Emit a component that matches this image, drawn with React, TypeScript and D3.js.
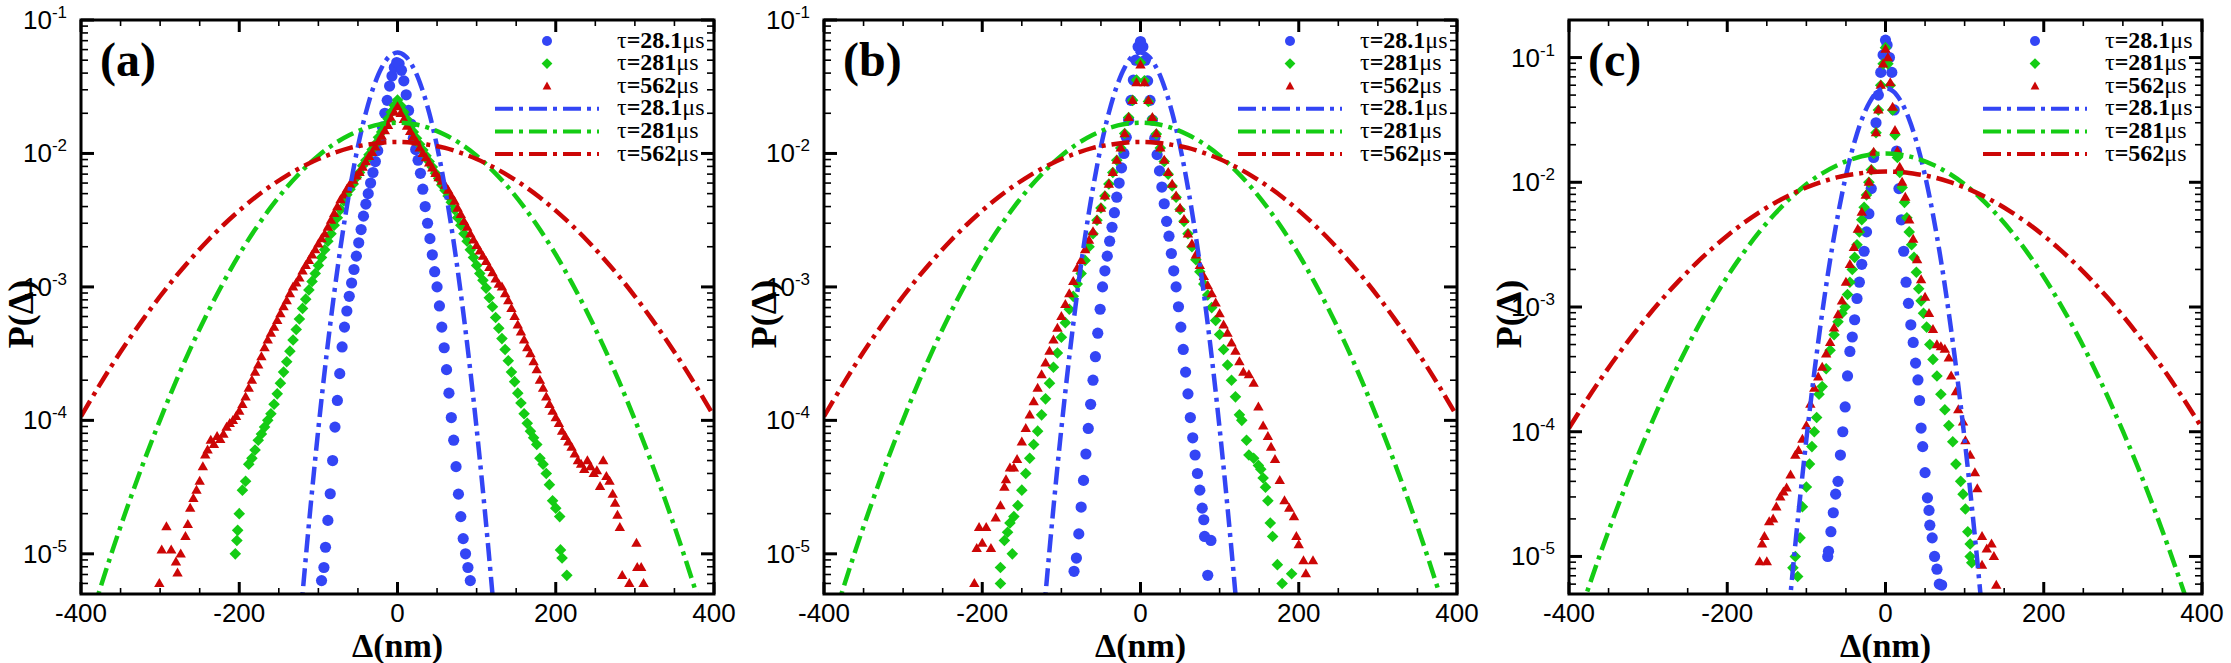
import React from 'react';
import * as d3 from 'd3';

type Pt = [number, number];

// ---------- shared values ----------
const tauValues = ['28.1', '281', '562'];
const xMajorTicks = [-400, -200, 0, 200, 400];
const xDomain: [number, number] = [-400, 400];
const yMin = 5e-6;
const yMaxList = [0.1, 0.1, 0.2];
const panelLabels = ['(a)', '(b)', '(c)'];

// ---------- Gaussian fit curves (same in all panels) ----------
const fitBlue: Pt[] = [[-130,9.9e-7],[-120,5.0e-6],[-110,2.22e-5],[-100,8.69e-5],[-90,2.98e-4],[-80,8.97e-4],[-70,2.38e-3],[-60,5.52e-3],[-50,1.13e-2],[-40,2.02e-2],[-30,3.18e-2],[-20,4.40e-2],[-10,5.35e-2],[0,5.70e-2],[10,5.35e-2],[20,4.40e-2],[30,3.18e-2],[40,2.02e-2],[50,1.13e-2],[60,5.52e-3],[70,2.38e-3],[80,8.97e-4],[90,2.98e-4],[100,8.69e-5],[110,2.22e-5],[120,5.0e-6],[130,9.9e-7]];
const fitGreen: Pt[] = [[-400,1.89e-6],[-380,4.59e-6],[-360,1.07e-5],[-340,2.37e-5],[-320,5.01e-5],[-300,1.01e-4],[-280,1.96e-4],[-260,3.63e-4],[-240,6.41e-4],[-220,1.08e-3],[-200,1.75e-3],[-180,2.69e-3],[-160,3.96e-3],[-140,5.57e-3],[-120,7.48e-3],[-100,9.62e-3],[-80,1.18e-2],[-60,1.38e-2],[-40,1.55e-2],[-20,1.66e-2],[0,1.70e-2],[20,1.66e-2],[40,1.55e-2],[60,1.38e-2],[80,1.18e-2],[100,9.62e-3],[120,7.48e-3],[140,5.57e-3],[160,3.96e-3],[180,2.69e-3],[200,1.75e-3],[220,1.08e-3],[240,6.41e-4],[260,3.63e-4],[280,1.96e-4],[300,1.01e-4],[320,5.01e-5],[340,2.37e-5],[360,1.07e-5],[380,4.59e-6],[400,1.89e-6]];
const fitRed: Pt[] = [[-400,1.07e-4],[-380,1.70e-4],[-360,2.64e-4],[-340,3.99e-4],[-320,5.89e-4],[-300,8.51e-4],[-280,1.20e-3],[-260,1.65e-3],[-240,2.22e-3],[-220,2.91e-3],[-200,3.73e-3],[-180,4.68e-3],[-160,5.72e-3],[-140,6.83e-3],[-120,7.96e-3],[-100,9.08e-3],[-80,1.01e-2],[-60,1.10e-2],[-40,1.16e-2],[-20,1.205e-2],[0,1.22e-2],[20,1.205e-2],[40,1.16e-2],[60,1.10e-2],[80,1.01e-2],[100,9.08e-3],[120,7.96e-3],[140,6.83e-3],[160,5.72e-3],[180,4.68e-3],[200,3.73e-3],[220,2.91e-3],[240,2.22e-3],[260,1.65e-3],[280,1.20e-3],[300,8.51e-4],[320,5.89e-4],[340,3.99e-4],[360,2.64e-4],[380,1.70e-4],[400,1.07e-4]];

// ---------- panel (a) measured ----------
const blueA: Pt[] = [[-96,6.3e-6],[-93,7.9e-6],[-91,1.12e-5],[-88,1.78e-5],[-85,2.82e-5],[-82,5.0e-5],[-79,8.9e-5],[-76,1.41e-4],[-73,2.24e-4],[-70,3.55e-4],[-67,5.0e-4],[-64,6.6e-4],[-61,8.5e-4],[-58,1.07e-3],[-55,1.35e-3],[-52,1.7e-3],[-49,2.14e-3],[-46,2.69e-3],[-43,3.39e-3],[-40,4.17e-3],[-37,5.0e-3],[-34,6.0e-3],[-31,7.2e-3],[-28,8.7e-3],[-25,1.05e-2],[-22,1.26e-2],[-19,1.58e-2],[-16,2.0e-2],[-13,2.5e-2],[-10,3.2e-2],[-7,3.8e-2],[-4,4.4e-2],[-1,4.8e-2],[2,4.7e-2],[5,4.2e-2],[8,3.5e-2],[11,2.75e-2],[14,2.1e-2],[17,1.66e-2],[20,1.3e-2],[23,1.07e-2],[26,8.9e-3],[29,7.1e-3],[32,5.4e-3],[35,4.0e-3],[38,3.0e-3],[41,2.3e-3],[44,1.74e-3],[47,1.3e-3],[50,1.0e-3],[53,7.2e-4],[56,5.0e-4],[59,3.5e-4],[62,2.4e-4],[65,1.6e-4],[68,1.05e-4],[71,7.1e-5],[74,4.5e-5],[77,2.8e-5],[80,1.9e-5],[83,1.3e-5],[86,1.0e-5],[89,7.9e-6],[92,6.3e-6]];
const greenA: Pt[] = [[-205,1.0e-5],[-203,1.26e-5],[-202,1.5e-5],[-200,2.0e-5],[-196,3.0e-5],[-192,3.5e-5],[-188,4.7e-5],[-184,5.2e-5],[-180,6.0e-5],[-176,7.1e-5],[-172,7.9e-5],[-168,8.9e-5],[-164,1.0e-4],[-160,1.12e-4],[-156,1.32e-4],[-152,1.58e-4],[-148,1.9e-4],[-144,2.3e-4],[-140,2.75e-4],[-136,3.3e-4],[-132,4.0e-4],[-128,4.8e-4],[-124,5.75e-4],[-120,6.9e-4],[-116,8.1e-4],[-112,9.5e-4],[-108,1.1e-3],[-104,1.26e-3],[-100,1.45e-3],[-96,1.66e-3],[-92,1.9e-3],[-88,2.2e-3],[-84,2.5e-3],[-80,2.9e-3],[-76,3.3e-3],[-72,3.8e-3],[-68,4.4e-3],[-64,4.9e-3],[-60,5.4e-3],[-56,5.9e-3],[-52,6.6e-3],[-48,7.2e-3],[-44,8.1e-3],[-40,8.9e-3],[-36,9.8e-3],[-32,1.07e-2],[-28,1.17e-2],[-24,1.32e-2],[-20,1.45e-2],[-16,1.62e-2],[-12,1.82e-2],[-8,2.04e-2],[-4,2.29e-2],[0,2.51e-2],[4,2.29e-2],[8,2.04e-2],[12,1.8e-2],[16,1.6e-2],[20,1.45e-2],[24,1.3e-2],[28,1.17e-2],[32,1.06e-2],[36,9.6e-3],[40,8.7e-3],[44,7.9e-3],[48,7.1e-3],[52,6.5e-3],[56,5.8e-3],[60,5.3e-3],[64,4.8e-3],[68,4.3e-3],[72,3.8e-3],[76,3.3e-3],[80,2.9e-3],[84,2.5e-3],[88,2.2e-3],[92,1.9e-3],[96,1.66e-3],[100,1.45e-3],[104,1.26e-3],[108,1.12e-3],[112,9.8e-4],[116,8.3e-4],[120,7.1e-4],[124,5.9e-4],[128,4.9e-4],[132,4.1e-4],[136,3.4e-4],[140,2.8e-4],[144,2.3e-4],[148,1.95e-4],[152,1.6e-4],[156,1.35e-4],[160,1.12e-4],[164,9.5e-5],[168,8.3e-5],[172,7.4e-5],[176,6.6e-5],[180,5.2e-5],[184,4.7e-5],[188,4.0e-5],[192,3.3e-5],[196,2.5e-5],[200,2.2e-5],[205,1.9e-5],[206,1.07e-5],[208,9.3e-6],[214,6.9e-6]];
const redA: Pt[] = [[-301,6.0e-6],[-298,1.07e-5],[-292,1.6e-5],[-286,1.07e-5],[-280,8.7e-6],[-278,7.2e-6],[-274,1.0e-5],[-268,1.35e-5],[-265,1.66e-5],[-262,2.2e-5],[-258,2.6e-5],[-254,3.0e-5],[-250,3.5e-5],[-246,4.5e-5],[-243,5.5e-5],[-240,6.0e-5],[-236,7.1e-5],[-232,6.6e-5],[-228,7.6e-5],[-224,7.2e-5],[-220,7.9e-5],[-216,8.9e-5],[-212,9.5e-5],[-208,1.0e-4],[-204,1.07e-4],[-200,1.17e-4],[-196,1.32e-4],[-192,1.5e-4],[-188,1.74e-4],[-184,2.0e-4],[-180,2.3e-4],[-176,2.6e-4],[-172,3.0e-4],[-168,3.5e-4],[-164,4.0e-4],[-160,4.5e-4],[-156,5.0e-4],[-152,5.6e-4],[-148,6.3e-4],[-144,7.1e-4],[-140,7.9e-4],[-136,8.9e-4],[-132,1.0e-3],[-128,1.07e-3],[-124,1.17e-3],[-120,1.32e-3],[-116,1.45e-3],[-112,1.58e-3],[-108,1.74e-3],[-104,1.9e-3],[-100,2.1e-3],[-96,2.3e-3],[-92,2.5e-3],[-88,2.8e-3],[-84,3.16e-3],[-80,3.55e-3],[-76,4.0e-3],[-72,4.5e-3],[-68,4.9e-3],[-64,5.4e-3],[-60,5.9e-3],[-56,6.3e-3],[-52,6.8e-3],[-48,7.2e-3],[-44,7.9e-3],[-40,8.7e-3],[-36,9.5e-3],[-32,1.02e-2],[-28,1.12e-2],[-24,1.23e-2],[-20,1.35e-2],[-16,1.48e-2],[-12,1.62e-2],[-8,1.82e-2],[-4,2.04e-2],[0,2.24e-2],[4,2.0e-2],[8,1.8e-2],[12,1.6e-2],[16,1.46e-2],[20,1.33e-2],[24,1.22e-2],[28,1.1e-2],[32,1.0e-2],[36,9.3e-3],[40,8.5e-3],[44,7.8e-3],[48,7.1e-3],[52,6.6e-3],[56,6.2e-3],[60,5.8e-3],[64,5.3e-3],[68,4.8e-3],[72,4.4e-3],[76,3.9e-3],[80,3.5e-3],[84,3.1e-3],[88,2.8e-3],[92,2.5e-3],[96,2.25e-3],[100,2.05e-3],[104,1.86e-3],[108,1.7e-3],[112,1.55e-3],[116,1.4e-3],[120,1.28e-3],[124,1.15e-3],[128,1.05e-3],[132,1.0e-3],[136,8.9e-4],[140,7.9e-4],[144,6.9e-4],[148,6.0e-4],[152,5.2e-4],[156,4.6e-4],[160,4.0e-4],[164,3.5e-4],[168,3.16e-4],[172,2.75e-4],[176,2.4e-4],[180,2.0e-4],[184,1.74e-4],[188,1.5e-4],[192,1.32e-4],[196,1.17e-4],[200,1.05e-4],[204,9.5e-5],[208,8.3e-5],[212,7.6e-5],[216,6.9e-5],[220,6.3e-5],[224,5.6e-5],[228,5.0e-5],[232,4.7e-5],[236,4.3e-5],[240,5.0e-5],[244,4.5e-5],[248,4.0e-5],[252,4.2e-5],[256,3.2e-5],[260,5.0e-5],[264,3.8e-5],[268,3.5e-5],[272,2.8e-5],[275,2.4e-5],[278,1.95e-5],[281,1.58e-5],[284,6.9e-6],[293,6.0e-6],[302,1.2e-5],[303,7.9e-6],[308,7.9e-6],[311,6.0e-6]];

// ---------- panel (b) measured ----------
const blueB: Pt[] = [[-84,7.4e-6],[-81,9.3e-6],[-78,1.41e-5],[-75,2.24e-5],[-72,3.55e-5],[-69,5.6e-5],[-66,8.7e-5],[-63,1.32e-4],[-60,2.0e-4],[-57,3.0e-4],[-54,4.5e-4],[-51,6.8e-4],[-48,1.0e-3],[-45,1.32e-3],[-42,1.7e-3],[-39,2.2e-3],[-36,2.8e-3],[-33,3.6e-3],[-30,4.7e-3],[-27,6.0e-3],[-24,7.8e-3],[-21,1.0e-2],[-18,1.32e-2],[-15,1.78e-2],[-12,2.5e-2],[-9,3.55e-2],[-6,5.0e-2],[-3,6.3e-2],[0,6.9e-2],[3,6.3e-2],[6,5.0e-2],[9,3.5e-2],[12,2.5e-2],[15,1.78e-2],[18,1.3e-2],[21,9.8e-3],[24,7.4e-3],[27,5.6e-3],[30,4.2e-3],[33,3.1e-3],[36,2.4e-3],[39,1.78e-3],[42,1.32e-3],[45,1.0e-3],[48,7.1e-4],[51,5.0e-4],[54,3.4e-4],[57,2.3e-4],[60,1.58e-4],[63,1.05e-4],[66,7.4e-5],[69,5.5e-5],[72,4.0e-5],[75,3.0e-5],[78,2.2e-5],[80,1.8e-5],[81,1.35e-5],[85,6.9e-6],[89,1.26e-5]];
const greenB: Pt[] = [[-177,6.0e-6],[-177,7.9e-6],[-172,1.26e-5],[-168,1.45e-5],[-165,1.7e-5],[-162,1.0e-5],[-160,1.9e-5],[-155,2.3e-5],[-150,3.0e-5],[-145,4.0e-5],[-140,5.2e-5],[-135,6.6e-5],[-130,8.3e-5],[-125,1.1e-4],[-120,1.45e-4],[-115,1.9e-4],[-110,2.5e-4],[-105,3.2e-4],[-100,4.2e-4],[-95,5.4e-4],[-90,6.8e-4],[-85,8.5e-4],[-80,1.05e-3],[-75,1.26e-3],[-70,1.58e-3],[-65,2.0e-3],[-60,2.5e-3],[-55,3.16e-3],[-50,3.9e-3],[-45,4.8e-3],[-40,5.9e-3],[-35,7.2e-3],[-30,8.9e-3],[-25,1.1e-2],[-20,1.41e-2],[-15,1.86e-2],[-10,2.5e-2],[-5,3.55e-2],[0,4.8e-2],[5,3.5e-2],[10,2.45e-2],[15,1.82e-2],[20,1.4e-2],[25,1.1e-2],[30,8.7e-3],[35,7.0e-3],[40,5.7e-3],[45,4.7e-3],[50,3.8e-3],[55,3.1e-3],[60,2.5e-3],[65,2.0e-3],[70,1.6e-3],[75,1.3e-3],[80,1.05e-3],[85,8.7e-4],[90,7.0e-4],[95,5.6e-4],[100,4.4e-4],[105,3.4e-4],[110,2.6e-4],[115,2.0e-4],[120,1.5e-4],[125,1.1e-4],[128,1.0e-4],[134,7.1e-5],[137,5.5e-5],[143,5.2e-5],[149,4.6e-5],[152,4.3e-5],[155,3.7e-5],[158,3.16e-5],[161,2.5e-5],[164,1.7e-5],[167,1.35e-5],[173,8.3e-6],[179,6.0e-6],[191,7.1e-6]];
const redB: Pt[] = [[-210,6.0e-6],[-207,1.1e-5],[-204,1.58e-5],[-200,1.2e-5],[-195,1.58e-5],[-189,1.1e-5],[-183,1.86e-5],[-177,2.3e-5],[-172,3.16e-5],[-170,3.6e-5],[-165,4.4e-5],[-160,4.4e-5],[-156,5.1e-5],[-150,6.9e-5],[-145,8.7e-5],[-140,1.1e-4],[-135,1.38e-4],[-130,1.74e-4],[-125,2.2e-4],[-120,2.7e-4],[-115,3.3e-4],[-110,4.0e-4],[-105,4.9e-4],[-100,6.0e-4],[-95,7.4e-4],[-90,8.9e-4],[-85,1.1e-3],[-80,1.38e-3],[-75,1.58e-3],[-70,1.9e-3],[-65,2.24e-3],[-60,2.6e-3],[-55,3.16e-3],[-50,3.9e-3],[-45,4.8e-3],[-40,5.9e-3],[-35,7.2e-3],[-30,8.9e-3],[-25,1.1e-2],[-20,1.41e-2],[-15,1.86e-2],[-10,2.5e-2],[-5,3.4e-2],[0,4.6e-2],[5,3.4e-2],[10,2.5e-2],[15,1.86e-2],[20,1.41e-2],[25,1.1e-2],[30,8.9e-3],[35,7.2e-3],[40,5.9e-3],[45,4.8e-3],[50,3.9e-3],[55,3.2e-3],[60,2.5e-3],[65,2.1e-3],[70,1.74e-3],[75,1.45e-3],[80,1.2e-3],[85,1.02e-3],[90,8.9e-4],[95,7.6e-4],[100,6.3e-4],[105,5.2e-4],[110,4.5e-4],[115,3.8e-4],[120,3.3e-4],[125,2.75e-4],[130,2.3e-4],[137,2.2e-4],[143,1.9e-4],[149,1.26e-4],[155,9.1e-5],[161,7.6e-5],[165,6.3e-5],[170,5.1e-5],[176,3.55e-5],[182,2.5e-5],[188,2.2e-5],[194,1.9e-5],[197,1.35e-5],[200,1.17e-5],[206,8.9e-6],[209,7.1e-6],[218,8.9e-6]];

// ---------- panel (c) measured ----------
const blueC: Pt[] = [[-73,1.0e-5],[-72,1.1e-5],[-69,1.58e-5],[-66,2.24e-5],[-63,3.16e-5],[-60,4.0e-5],[-57,6.5e-5],[-54,1.0e-4],[-51,1.58e-4],[-48,2.8e-4],[-45,4.4e-4],[-42,5.75e-4],[-39,7.9e-4],[-36,1.17e-3],[-33,1.58e-3],[-30,2.2e-3],[-27,2.8e-3],[-24,4.0e-3],[-21,5.6e-3],[-18,8.9e-3],[-15,1.58e-2],[-12,3.0e-2],[-9,5.0e-2],[-6,7.6e-2],[-3,1.05e-1],[0,1.38e-1],[2,1.26e-1],[5,1.0e-1],[8,7.6e-2],[11,3.8e-2],[14,1.78e-2],[17,8.9e-3],[20,5.0e-3],[23,2.8e-3],[26,1.58e-3],[29,1.07e-3],[32,7.2e-4],[35,5.2e-4],[38,3.55e-4],[41,2.6e-4],[43,1.78e-4],[45,1.07e-4],[47,7.6e-5],[50,4.7e-5],[53,2.95e-5],[55,2.34e-5],[56,1.78e-5],[59,1.41e-5],[62,1.0e-5],[65,7.9e-6],[68,6.0e-6],[71,5.9e-6]];
const greenC: Pt[] = [[-117,8.1e-6],[-114,1.0e-5],[-111,6.9e-6],[-108,1.41e-5],[-105,2.5e-5],[-100,3.6e-5],[-96,5.5e-5],[-93,7.6e-5],[-90,1.0e-4],[-87,1.3e-4],[-84,2.0e-4],[-80,2.3e-4],[-75,3.2e-4],[-70,4.5e-4],[-65,6.0e-4],[-60,7.6e-4],[-55,8.9e-4],[-51,1.0e-3],[-48,1.26e-3],[-45,1.58e-3],[-42,2.0e-3],[-39,2.5e-3],[-36,3.16e-3],[-33,4.0e-3],[-30,5.0e-3],[-27,6.3e-3],[-24,7.9e-3],[-21,1.0e-2],[-18,1.26e-2],[-15,1.7e-2],[-12,2.5e-2],[-9,3.8e-2],[-6,6.0e-2],[-3,8.9e-2],[0,1.2e-1],[3,8.9e-2],[6,6.0e-2],[9,3.8e-2],[12,2.4e-2],[15,1.58e-2],[18,1.2e-2],[21,9.1e-3],[24,6.9e-3],[27,5.2e-3],[30,4.0e-3],[33,3.16e-3],[36,2.5e-3],[39,1.9e-3],[42,1.4e-3],[45,1.12e-3],[48,8.9e-4],[52,6.9e-4],[56,5.0e-4],[60,3.8e-4],[65,2.8e-4],[70,2.0e-4],[75,1.5e-4],[80,1.12e-4],[85,8.3e-5],[89,5.5e-5],[95,4.0e-5],[98,3.16e-5],[101,2.4e-5],[104,1.58e-5],[107,1.0e-5],[107,1.26e-5],[109,8.9e-6]];
const redC: Pt[] = [[-159,9.1e-6],[-156,1.26e-5],[-153,1.45e-5],[-150,9.1e-6],[-147,1.9e-5],[-142,2.0e-5],[-138,2.5e-5],[-133,3.0e-5],[-129,3.3e-5],[-125,3.55e-5],[-120,4.5e-5],[-114,6.5e-5],[-110,7.1e-5],[-105,8.7e-5],[-100,1.12e-4],[-95,1.66e-4],[-90,2.24e-4],[-85,2.75e-4],[-80,3.3e-4],[-75,4.2e-4],[-70,5.2e-4],[-65,6.8e-4],[-60,8.7e-4],[-55,1.12e-3],[-50,1.58e-3],[-45,2.2e-3],[-40,3.0e-3],[-35,4.2e-3],[-30,5.75e-3],[-25,7.9e-3],[-21,1.0e-2],[-18,1.26e-2],[-15,1.74e-2],[-12,2.5e-2],[-9,3.8e-2],[-6,6.0e-2],[-3,8.9e-2],[0,1.17e-1],[3,1.0e-1],[6,6.3e-2],[9,4.0e-2],[12,2.6e-2],[15,1.78e-2],[18,1.32e-2],[21,1.0e-2],[25,7.6e-3],[30,5.0e-3],[35,3.5e-3],[40,2.4e-3],[45,1.66e-3],[50,1.2e-3],[55,8.9e-4],[60,6.6e-4],[65,5.0e-4],[70,4.8e-4],[75,4.6e-4],[80,3.9e-4],[83,2.8e-4],[89,2.1e-4],[92,1.5e-4],[98,1.2e-4],[101,8.5e-5],[107,6.5e-5],[113,4.7e-5],[116,3.5e-5],[122,1.45e-5],[122,8.5e-6],[128,1.15e-5],[134,1.26e-5],[137,1.0e-5],[140,5.9e-6]];

const blueSets = [blueA, blueB, blueC];
const greenSets = [greenA, greenB, greenC];
const redSets = [redA, redB, redC];

// ---------- styling / layout ----------
const BLUE = '#3345f5';
const GREEN = '#14cc14';
const RED = '#cc0606';
const PANEL_LEFT = [81, 824, 1569];
const TOP = 20;
const W = 633;
const H = 574;
const SANS = 'Liberation Sans, Arial, Helvetica, sans-serif';
const SERIF = 'Liberation Serif, Times New Roman, Times, serif';
const DASH = '18 6 4 6';

const diamondPath = 'M0,-5.8L5.8,0L0,5.8L-5.8,0Z';
const trianglePath = 'M0,-5.4L5.2,3.6L-5.2,3.6Z';
const diamondPathLegend = 'M0,-5.4L5.4,0L0,5.4L-5.4,0Z';
const trianglePathLegend = 'M0,-4.6L4.4,3.2L-4.4,3.2Z';

function Panel({ idx }: { idx: number }) {
  const left = PANEL_LEFT[idx];
  const yMax = yMaxList[idx];
  const x = d3.scaleLinear().domain(xDomain).range([0, W]);
  const y = d3.scaleLog().domain([yMin, yMax]).range([H, 0]);
  const line = d3
    .line<Pt>()
    .x((d) => x(d[0]))
    .y((d) => y(d[1]))
    .curve(d3.curveCatmullRom);
  const clipId = `plotclip${idx}`;

  const xMinor: number[] = d3.range(-350, 400, 50).filter((v) => !xMajorTicks.includes(v));
  const decades: number[] = [];
  const minors: number[] = [];
  for (let e = -6; e <= 0; e++) {
    const d = Math.pow(10, e);
    if (d > yMin * 1.0001 && d < yMax * 1.0001) decades.push(d);
    for (let m = 2; m <= 9; m++) {
      const v = m * d;
      if (v > yMin * 1.0001 && v < yMax * 0.9999) minors.push(v);
    }
  }

  const legendBase = (i: number) => 47.5 - TOP + 22.6 * i;
  const markerX = W - 167;
  const textX = W - 97;

  return (
    <g transform={`translate(${left},${TOP})`}>
      <defs>
        <clipPath id={clipId}>
          <rect x={0} y={0} width={W} height={H} />
        </clipPath>
      </defs>
      <g clipPath={`url(#${clipId})`}>
        {blueSets[idx].map((d, i) => (
          <circle key={`b${i}`} cx={x(d[0])} cy={y(d[1])} r={5.6} fill={BLUE} />
        ))}
        {greenSets[idx].map((d, i) => (
          <path key={`g${i}`} d={diamondPath} transform={`translate(${x(d[0])},${y(d[1])})`} fill={GREEN} />
        ))}
        {redSets[idx].map((d, i) => (
          <path key={`r${i}`} d={trianglePath} transform={`translate(${x(d[0])},${y(d[1])})`} fill={RED} />
        ))}
        <path d={line(fitBlue) || ''} fill="none" stroke={BLUE} strokeWidth={4.5} strokeDasharray={DASH} />
        <path d={line(fitGreen) || ''} fill="none" stroke={GREEN} strokeWidth={4.5} strokeDasharray={DASH} />
        <path d={line(fitRed) || ''} fill="none" stroke={RED} strokeWidth={4.5} strokeDasharray={DASH} />
      </g>

      {/* ticks */}
      {xMajorTicks.map((v) => (
        <g key={`xM${v}`}>
          <line x1={x(v)} x2={x(v)} y1={H} y2={H - 12} stroke="#000" strokeWidth={3} />
          <line x1={x(v)} x2={x(v)} y1={0} y2={12} stroke="#000" strokeWidth={3} />
          <text x={x(v)} y={H + 28} textAnchor="middle" fontFamily={SANS} fontSize={26}>
            {v}
          </text>
        </g>
      ))}
      {xMinor.map((v) => (
        <g key={`xm${v}`}>
          <line x1={x(v)} x2={x(v)} y1={H} y2={H - 6} stroke="#000" strokeWidth={1.6} />
          <line x1={x(v)} x2={x(v)} y1={0} y2={6} stroke="#000" strokeWidth={1.6} />
        </g>
      ))}
      {decades.map((v) => (
        <g key={`yM${v}`}>
          <line x1={0} x2={13} y1={y(v)} y2={y(v)} stroke="#000" strokeWidth={3} />
          <line x1={W} x2={W - 13} y1={y(v)} y2={y(v)} stroke="#000" strokeWidth={3} />
          <text x={-14} y={y(v) + 9} textAnchor="end" fontFamily={SANS} fontSize={26}>
            <tspan>10</tspan>
            <tspan dy={-11} fontSize={17}>{`-${Math.round(-Math.log10(v))}`}</tspan>
          </text>
        </g>
      ))}
      {minors.map((v, i) => (
        <g key={`ym${i}`}>
          <line x1={0} x2={7} y1={y(v)} y2={y(v)} stroke="#000" strokeWidth={1.6} />
          <line x1={W} x2={W - 7} y1={y(v)} y2={y(v)} stroke="#000" strokeWidth={1.6} />
        </g>
      ))}

      {/* frame */}
      <rect x={0} y={0} width={W} height={H} fill="none" stroke="#000" strokeWidth={3} />

      {/* panel label */}
      <text x={19} y={76 - TOP} fontFamily={SERIF} fontWeight="bold" fontSize={48}>
        {panelLabels[idx]}
      </text>

      {/* legend */}
      <circle cx={markerX} cy={legendBase(0) - 6.5} r={5} fill={BLUE} />
      <path d={diamondPathLegend} transform={`translate(${markerX},${legendBase(1) - 6.5})`} fill={GREEN} />
      <path d={trianglePathLegend} transform={`translate(${markerX},${legendBase(2) - 6.5})`} fill={RED} />
      {[BLUE, GREEN, RED].map((c, i) => (
        <line
          key={`ll${i}`}
          x1={W - 219}
          x2={W - 115}
          y1={legendBase(3 + i) - 6.5}
          y2={legendBase(3 + i) - 6.5}
          stroke={c}
          strokeWidth={4}
          strokeDasharray={DASH}
        />
      ))}
      {[0, 1, 2, 3, 4, 5].map((i) => (
        <text key={`lt${i}`} x={textX} y={legendBase(i)} fontFamily={SERIF} fontSize={24} fontWeight="bold">
          <tspan fontWeight="normal">τ</tspan>
          {`=${tauValues[i % 3]}`}
          <tspan fontWeight="normal">μs</tspan>
        </text>
      ))}

      {/* axis titles */}
      <text x={W / 2} y={657 - TOP} textAnchor="middle" fontFamily={SERIF} fontWeight="bold" fontSize={34}>
        Δ(nm)
      </text>
      <text
        transform={`translate(${-48},${H / 2 + 7}) rotate(-90)`}
        textAnchor="middle"
        fontFamily={SERIF}
        fontWeight="bold"
        fontSize={36}
      >
        P(Δ)
      </text>
    </g>
  );
}

export default function App() {
  return (
    <svg
      width={2231}
      height={663}
      viewBox="0 0 2231 663"
      style={{ position: 'absolute', left: 0, top: 0, background: '#fff' }}
    >
      <rect x={0} y={0} width={2231} height={663} fill="#fff" />
      {[0, 1, 2].map((i) => (
        <Panel key={i} idx={i} />
      ))}
    </svg>
  );
}
